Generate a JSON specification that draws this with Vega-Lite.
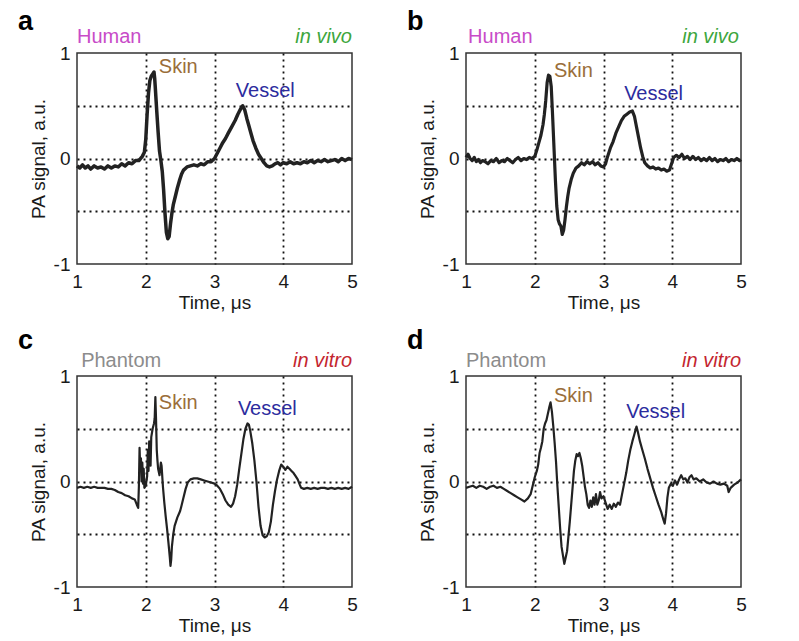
{
  "$schema": "https://vega.github.io/schema/vega-lite/v6.json",
  "padding": {"left": 17, "top": 7, "right": 5, "bottom": 5},
  "background": "white",
  "config": {
    "font": "Liberation Sans",
    "view": {"stroke": "#333333", "strokeWidth": 1.5},
    "axis": {
      "labelFont": "Liberation Sans", "labelFontSize": 19, "labelColor": "#1a1a1a",
      "titleFont": "Liberation Sans", "titleFontSize": 19, "titleFontWeight": "normal", "titleColor": "#1a1a1a",
      "ticks": false, "domain": false,
      "gridColor": "#111111", "gridDash": [2, 4], "gridWidth": 1.8
    },
    "axisX": {"labelFlush": false, "labelPadding": 8, "titlePadding": 2, "labelOverlap": false, "format": "d"},
    "axisY": {"labelPadding": 7, "titlePadding": 5, "labelOverlap": false}
  },
  "datasets": {
    "a": [
      {"t":1.00,"s":-0.07},{"t":1.04,"s":-0.09},{"t":1.08,"s":-0.06},{"t":1.12,"s":-0.09},{"t":1.16,"s":-0.07},{"t":1.20,"s":-0.10},{"t":1.25,"s":-0.07},{"t":1.30,"s":-0.09},{"t":1.35,"s":-0.08},{"t":1.40,"s":-0.10},{"t":1.45,"s":-0.07},{"t":1.50,"s":-0.09},{"t":1.55,"s":-0.07},{"t":1.60,"s":-0.08},{"t":1.65,"s":-0.05},{"t":1.70,"s":-0.07},{"t":1.75,"s":-0.04},{"t":1.80,"s":-0.05},{"t":1.85,"s":-0.02},{"t":1.90,"s":-0.02},{"t":1.95,"s":0.02},{"t":1.98,"s":0.06},{"t":2.00,"s":0.18},{"t":2.02,"s":0.42},{"t":2.04,"s":0.62},{"t":2.06,"s":0.74},{"t":2.08,"s":0.78},{"t":2.10,"s":0.80},{"t":2.12,"s":0.82},{"t":2.13,"s":0.76},{"t":2.14,"s":0.66},{"t":2.16,"s":0.45},{"t":2.18,"s":0.25},{"t":2.20,"s":0.07},{"t":2.22,"s":-0.02},{"t":2.24,"s":-0.12},{"t":2.26,"s":-0.30},{"t":2.28,"s":-0.52},{"t":2.30,"s":-0.70},{"t":2.32,"s":-0.76},{"t":2.34,"s":-0.74},{"t":2.36,"s":-0.62},{"t":2.38,"s":-0.52},{"t":2.40,"s":-0.44},{"t":2.43,"s":-0.36},{"t":2.46,"s":-0.28},{"t":2.49,"s":-0.21},{"t":2.52,"s":-0.15},{"t":2.55,"s":-0.11},{"t":2.60,"s":-0.08},{"t":2.65,"s":-0.07},{"t":2.70,"s":-0.06},{"t":2.75,"s":-0.07},{"t":2.80,"s":-0.05},{"t":2.85,"s":-0.06},{"t":2.90,"s":-0.03},{"t":2.95,"s":-0.03},{"t":3.00,"s":0.00},{"t":3.04,"s":0.05},{"t":3.08,"s":0.10},{"t":3.12,"s":0.15},{"t":3.16,"s":0.19},{"t":3.20,"s":0.24},{"t":3.25,"s":0.30},{"t":3.30,"s":0.36},{"t":3.34,"s":0.42},{"t":3.38,"s":0.47},{"t":3.41,"s":0.50},{"t":3.44,"s":0.46},{"t":3.47,"s":0.38},{"t":3.50,"s":0.31},{"t":3.53,"s":0.24},{"t":3.56,"s":0.17},{"t":3.60,"s":0.10},{"t":3.64,"s":0.04},{"t":3.68,"s":0.00},{"t":3.72,"s":-0.04},{"t":3.76,"s":-0.07},{"t":3.80,"s":-0.08},{"t":3.84,"s":-0.07},{"t":3.88,"s":-0.05},{"t":3.92,"s":-0.04},{"t":3.96,"s":-0.06},{"t":4.00,"s":-0.04},{"t":4.05,"s":-0.05},{"t":4.10,"s":-0.03},{"t":4.15,"s":-0.05},{"t":4.20,"s":-0.04},{"t":4.25,"s":-0.05},{"t":4.30,"s":-0.03},{"t":4.35,"s":-0.04},{"t":4.40,"s":-0.02},{"t":4.45,"s":-0.04},{"t":4.50,"s":-0.02},{"t":4.55,"s":-0.03},{"t":4.60,"s":-0.01},{"t":4.65,"s":-0.03},{"t":4.70,"s":-0.02},{"t":4.75,"s":-0.01},{"t":4.80,"s":-0.03},{"t":4.85,"s":0.00},{"t":4.90,"s":-0.02},{"t":4.95,"s":0.00},{"t":5.00,"s":-0.01}
    ],
    "b": [
      {"t":1.00,"s":0.01},{"t":1.03,"s":0.04},{"t":1.06,"s":0.00},{"t":1.09,"s":-0.02},{"t":1.12,"s":0.01},{"t":1.15,"s":-0.03},{"t":1.18,"s":-0.01},{"t":1.21,"s":-0.04},{"t":1.24,"s":-0.02},{"t":1.28,"s":-0.03},{"t":1.32,"s":-0.05},{"t":1.36,"s":-0.02},{"t":1.40,"s":-0.03},{"t":1.44,"s":0.00},{"t":1.48,"s":-0.04},{"t":1.52,"s":-0.02},{"t":1.56,"s":-0.03},{"t":1.60,"s":0.00},{"t":1.64,"s":-0.02},{"t":1.68,"s":-0.04},{"t":1.72,"s":-0.01},{"t":1.76,"s":0.01},{"t":1.80,"s":-0.02},{"t":1.84,"s":0.00},{"t":1.88,"s":-0.01},{"t":1.92,"s":0.01},{"t":1.96,"s":0.00},{"t":2.00,"s":0.02},{"t":2.03,"s":0.08},{"t":2.06,"s":0.15},{"t":2.09,"s":0.22},{"t":2.12,"s":0.32},{"t":2.14,"s":0.42},{"t":2.16,"s":0.55},{"t":2.18,"s":0.72},{"t":2.20,"s":0.79},{"t":2.22,"s":0.78},{"t":2.24,"s":0.68},{"t":2.26,"s":0.40},{"t":2.28,"s":0.10},{"t":2.30,"s":-0.20},{"t":2.32,"s":-0.45},{"t":2.34,"s":-0.58},{"t":2.36,"s":-0.62},{"t":2.38,"s":-0.64},{"t":2.40,"s":-0.72},{"t":2.42,"s":-0.68},{"t":2.44,"s":-0.58},{"t":2.46,"s":-0.46},{"t":2.48,"s":-0.36},{"t":2.50,"s":-0.28},{"t":2.53,"s":-0.20},{"t":2.56,"s":-0.14},{"t":2.60,"s":-0.09},{"t":2.64,"s":-0.07},{"t":2.68,"s":-0.04},{"t":2.72,"s":-0.06},{"t":2.76,"s":-0.03},{"t":2.80,"s":-0.05},{"t":2.84,"s":-0.03},{"t":2.88,"s":-0.06},{"t":2.92,"s":-0.04},{"t":2.96,"s":-0.07},{"t":3.00,"s":-0.08},{"t":3.03,"s":-0.05},{"t":3.06,"s":0.02},{"t":3.10,"s":0.10},{"t":3.14,"s":0.16},{"t":3.18,"s":0.24},{"t":3.22,"s":0.30},{"t":3.26,"s":0.36},{"t":3.30,"s":0.40},{"t":3.34,"s":0.42},{"t":3.38,"s":0.44},{"t":3.42,"s":0.45},{"t":3.45,"s":0.40},{"t":3.48,"s":0.30},{"t":3.51,"s":0.20},{"t":3.54,"s":0.10},{"t":3.57,"s":0.02},{"t":3.60,"s":-0.04},{"t":3.64,"s":-0.07},{"t":3.68,"s":-0.09},{"t":3.72,"s":-0.08},{"t":3.76,"s":-0.10},{"t":3.80,"s":-0.09},{"t":3.84,"s":-0.11},{"t":3.88,"s":-0.10},{"t":3.92,"s":-0.12},{"t":3.96,"s":-0.11},{"t":3.99,"s":-0.05},{"t":4.02,"s":0.01},{"t":4.06,"s":0.03},{"t":4.10,"s":0.01},{"t":4.14,"s":0.04},{"t":4.18,"s":0.00},{"t":4.22,"s":0.02},{"t":4.26,"s":-0.01},{"t":4.30,"s":0.02},{"t":4.34,"s":-0.01},{"t":4.38,"s":0.01},{"t":4.42,"s":-0.02},{"t":4.46,"s":0.00},{"t":4.50,"s":-0.02},{"t":4.54,"s":0.01},{"t":4.58,"s":-0.02},{"t":4.62,"s":0.00},{"t":4.66,"s":-0.03},{"t":4.70,"s":-0.01},{"t":4.74,"s":-0.02},{"t":4.78,"s":0.00},{"t":4.82,"s":-0.03},{"t":4.86,"s":-0.01},{"t":4.90,"s":-0.02},{"t":4.94,"s":0.00},{"t":4.98,"s":-0.02},{"t":5.00,"s":-0.01}
    ],
    "c": [
      {"t":1.00,"s":-0.06},{"t":1.05,"s":-0.05},{"t":1.10,"s":-0.06},{"t":1.15,"s":-0.05},{"t":1.20,"s":-0.06},{"t":1.25,"s":-0.05},{"t":1.30,"s":-0.06},{"t":1.35,"s":-0.06},{"t":1.40,"s":-0.06},{"t":1.45,"s":-0.07},{"t":1.50,"s":-0.07},{"t":1.55,"s":-0.08},{"t":1.60,"s":-0.10},{"t":1.65,"s":-0.11},{"t":1.70,"s":-0.13},{"t":1.75,"s":-0.14},{"t":1.80,"s":-0.16},{"t":1.84,"s":-0.17},{"t":1.87,"s":-0.22},{"t":1.89,"s":-0.25},{"t":1.90,"s":-0.05},{"t":1.91,"s":0.32},{"t":1.92,"s":0.10},{"t":1.93,"s":0.22},{"t":1.94,"s":0.00},{"t":1.95,"s":0.18},{"t":1.96,"s":-0.02},{"t":1.97,"s":0.12},{"t":1.98,"s":-0.06},{"t":2.00,"s":-0.04},{"t":2.02,"s":0.05},{"t":2.03,"s":0.30},{"t":2.04,"s":0.10},{"t":2.05,"s":0.38},{"t":2.06,"s":0.22},{"t":2.07,"s":0.15},{"t":2.08,"s":0.42},{"t":2.10,"s":0.50},{"t":2.12,"s":0.55},{"t":2.13,"s":0.60},{"t":2.14,"s":0.80},{"t":2.15,"s":0.58},{"t":2.16,"s":0.30},{"t":2.17,"s":0.20},{"t":2.18,"s":0.12},{"t":2.20,"s":0.06},{"t":2.22,"s":0.18},{"t":2.23,"s":0.15},{"t":2.25,"s":-0.05},{"t":2.27,"s":-0.20},{"t":2.29,"s":-0.33},{"t":2.31,"s":-0.45},{"t":2.33,"s":-0.58},{"t":2.35,"s":-0.72},{"t":2.36,"s":-0.80},{"t":2.37,"s":-0.74},{"t":2.38,"s":-0.62},{"t":2.40,"s":-0.50},{"t":2.42,"s":-0.42},{"t":2.44,"s":-0.38},{"t":2.46,"s":-0.34},{"t":2.48,"s":-0.31},{"t":2.50,"s":-0.28},{"t":2.52,"s":-0.23},{"t":2.55,"s":-0.15},{"t":2.58,"s":-0.07},{"t":2.61,"s":-0.01},{"t":2.65,"s":0.02},{"t":2.70,"s":0.03},{"t":2.75,"s":0.03},{"t":2.80,"s":0.02},{"t":2.85,"s":0.01},{"t":2.90,"s":0.00},{"t":2.95,"s":-0.01},{"t":3.00,"s":-0.02},{"t":3.04,"s":-0.04},{"t":3.08,"s":-0.07},{"t":3.12,"s":-0.12},{"t":3.16,"s":-0.18},{"t":3.20,"s":-0.22},{"t":3.24,"s":-0.24},{"t":3.27,"s":-0.21},{"t":3.30,"s":-0.14},{"t":3.33,"s":-0.03},{"t":3.36,"s":0.12},{"t":3.39,"s":0.26},{"t":3.42,"s":0.40},{"t":3.45,"s":0.50},{"t":3.48,"s":0.55},{"t":3.50,"s":0.54},{"t":3.52,"s":0.48},{"t":3.55,"s":0.36},{"t":3.58,"s":0.20},{"t":3.61,"s":0.00},{"t":3.64,"s":-0.24},{"t":3.67,"s":-0.42},{"t":3.70,"s":-0.51},{"t":3.73,"s":-0.53},{"t":3.76,"s":-0.52},{"t":3.79,"s":-0.48},{"t":3.82,"s":-0.38},{"t":3.85,"s":-0.22},{"t":3.88,"s":-0.09},{"t":3.91,"s":0.02},{"t":3.94,"s":0.10},{"t":3.97,"s":0.16},{"t":4.00,"s":0.14},{"t":4.03,"s":0.11},{"t":4.06,"s":0.14},{"t":4.09,"s":0.12},{"t":4.12,"s":0.10},{"t":4.15,"s":0.08},{"t":4.18,"s":0.05},{"t":4.21,"s":0.02},{"t":4.24,"s":-0.03},{"t":4.26,"s":-0.06},{"t":4.30,"s":-0.07},{"t":4.35,"s":-0.06},{"t":4.40,"s":-0.07},{"t":4.45,"s":-0.06},{"t":4.50,"s":-0.07},{"t":4.55,"s":-0.06},{"t":4.60,"s":-0.06},{"t":4.65,"s":-0.07},{"t":4.70,"s":-0.06},{"t":4.75,"s":-0.07},{"t":4.80,"s":-0.06},{"t":4.85,"s":-0.07},{"t":4.90,"s":-0.06},{"t":4.95,"s":-0.07},{"t":5.00,"s":-0.05}
    ],
    "d": [
      {"t":1.00,"s":-0.06},{"t":1.05,"s":-0.05},{"t":1.10,"s":-0.04},{"t":1.15,"s":-0.06},{"t":1.20,"s":-0.04},{"t":1.25,"s":-0.05},{"t":1.30,"s":-0.07},{"t":1.35,"s":-0.05},{"t":1.40,"s":-0.04},{"t":1.45,"s":-0.06},{"t":1.50,"s":-0.05},{"t":1.55,"s":-0.07},{"t":1.60,"s":-0.09},{"t":1.65,"s":-0.11},{"t":1.70,"s":-0.13},{"t":1.75,"s":-0.15},{"t":1.80,"s":-0.17},{"t":1.85,"s":-0.19},{"t":1.90,"s":-0.16},{"t":1.94,"s":-0.12},{"t":1.97,"s":-0.04},{"t":2.00,"s":0.04},{"t":2.03,"s":0.10},{"t":2.05,"s":0.16},{"t":2.07,"s":0.27},{"t":2.09,"s":0.32},{"t":2.11,"s":0.38},{"t":2.13,"s":0.50},{"t":2.15,"s":0.55},{"t":2.17,"s":0.58},{"t":2.19,"s":0.64},{"t":2.21,"s":0.70},{"t":2.23,"s":0.75},{"t":2.25,"s":0.66},{"t":2.27,"s":0.52},{"t":2.29,"s":0.36},{"t":2.31,"s":0.18},{"t":2.33,"s":-0.05},{"t":2.35,"s":-0.25},{"t":2.37,"s":-0.45},{"t":2.39,"s":-0.62},{"t":2.41,"s":-0.70},{"t":2.43,"s":-0.78},{"t":2.45,"s":-0.72},{"t":2.47,"s":-0.66},{"t":2.49,"s":-0.52},{"t":2.51,"s":-0.38},{"t":2.53,"s":-0.22},{"t":2.55,"s":-0.06},{"t":2.57,"s":0.10},{"t":2.59,"s":0.20},{"t":2.61,"s":0.26},{"t":2.63,"s":0.24},{"t":2.65,"s":0.27},{"t":2.67,"s":0.22},{"t":2.69,"s":0.15},{"t":2.71,"s":0.05},{"t":2.73,"s":-0.05},{"t":2.75,"s":-0.12},{"t":2.77,"s":-0.22},{"t":2.79,"s":-0.25},{"t":2.81,"s":-0.18},{"t":2.83,"s":-0.24},{"t":2.85,"s":-0.15},{"t":2.87,"s":-0.22},{"t":2.89,"s":-0.12},{"t":2.91,"s":-0.22},{"t":2.93,"s":-0.18},{"t":2.95,"s":-0.10},{"t":2.97,"s":-0.16},{"t":3.00,"s":-0.14},{"t":3.03,"s":-0.20},{"t":3.06,"s":-0.26},{"t":3.09,"s":-0.22},{"t":3.12,"s":-0.26},{"t":3.15,"s":-0.21},{"t":3.18,"s":-0.24},{"t":3.21,"s":-0.20},{"t":3.24,"s":-0.22},{"t":3.27,"s":-0.12},{"t":3.30,"s":-0.02},{"t":3.33,"s":0.08},{"t":3.36,"s":0.20},{"t":3.39,"s":0.30},{"t":3.42,"s":0.38},{"t":3.45,"s":0.45},{"t":3.48,"s":0.52},{"t":3.50,"s":0.47},{"t":3.53,"s":0.38},{"t":3.56,"s":0.31},{"t":3.60,"s":0.22},{"t":3.64,"s":0.12},{"t":3.68,"s":0.03},{"t":3.72,"s":-0.06},{"t":3.76,"s":-0.14},{"t":3.80,"s":-0.22},{"t":3.84,"s":-0.29},{"t":3.87,"s":-0.36},{"t":3.89,"s":-0.40},{"t":3.91,"s":-0.30},{"t":3.93,"s":-0.15},{"t":3.95,"s":-0.06},{"t":3.98,"s":-0.02},{"t":4.01,"s":-0.04},{"t":4.04,"s":0.01},{"t":4.07,"s":-0.03},{"t":4.10,"s":0.02},{"t":4.13,"s":0.06},{"t":4.16,"s":0.02},{"t":4.19,"s":0.03},{"t":4.22,"s":-0.01},{"t":4.25,"s":0.04},{"t":4.28,"s":0.06},{"t":4.31,"s":0.02},{"t":4.35,"s":0.03},{"t":4.40,"s":0.00},{"t":4.45,"s":0.02},{"t":4.50,"s":-0.01},{"t":4.55,"s":-0.02},{"t":4.60,"s":0.00},{"t":4.65,"s":-0.02},{"t":4.70,"s":-0.03},{"t":4.75,"s":-0.02},{"t":4.80,"s":-0.04},{"t":4.82,"s":-0.10},{"t":4.85,"s":-0.06},{"t":4.90,"s":-0.03},{"t":4.95,"s":-0.01},{"t":5.00,"s":0.02}
    ]
  },
  "columns": 2,
  "bounds": "flush",
  "spacing": {"row": 112, "column": 114},
  "concat": [
    {
      "width": 275, "height": 211,
      "layer": [
        {"data": {"name": "a"}, "mark": {"type": "line", "color": "#222222", "strokeWidth": 3.5, "strokeJoin": "round"},
         "encoding": {
           "x": {"field": "t", "type": "quantitative", "scale": {"domain": [1, 5], "nice": false}, "axis": {"title": "Time, μs", "values": [1, 2, 3, 4, 5], "grid": true, "gridOpacity": {"condition": {"test": "datum.value == 1 || datum.value == 5", "value": 0}, "value": 1}}},
           "y": {"field": "s", "type": "quantitative", "scale": {"domain": [-1, 1], "nice": false, "zero": false}, "axis": {"title": "PA signal, a.u.", "values": [-1, -0.5, 0, 0.5, 1], "labelExpr": "datum.value == 1 ? '1' : datum.value == 0 ? '0' : datum.value == -1 ? '-1' : ''", "grid": true, "gridOpacity": {"condition": {"test": "abs(datum.value) == 1", "value": 0}, "value": 1}}}
         }},
        {"data": {"values": [{}]}, "mark": {"type": "text", "text": "a", "fontSize": 27, "fontWeight": "bold", "color": "#000000", "align": "left", "baseline": "alphabetic"}, "encoding": {"x": {"datum": 0.14}, "y": {"datum": 1.218}}},
        {"data": {"values": [{}]}, "mark": {"type": "text", "text": "Human", "fontSize": 20, "color": "#C84BC8", "align": "left", "baseline": "alphabetic"}, "encoding": {"x": {"datum": 1}, "y": {"datum": 1.095}}},
        {"data": {"values": [{}]}, "mark": {"type": "text", "text": "in vivo", "fontSize": 20, "fontStyle": "italic", "color": "#3DA63D", "align": "right", "baseline": "alphabetic"}, "encoding": {"x": {"datum": 5}, "y": {"datum": 1.095}}},
        {"data": {"values": [{}]}, "mark": {"type": "text", "text": "Skin", "fontSize": 20, "color": "#9A6E3A", "align": "left", "baseline": "alphabetic"}, "encoding": {"x": {"datum": 2.19}, "y": {"datum": 0.81}}},
        {"data": {"values": [{}]}, "mark": {"type": "text", "text": "Vessel", "fontSize": 20, "color": "#2C2C9E", "align": "left", "baseline": "alphabetic"}, "encoding": {"x": {"datum": 3.31}, "y": {"datum": 0.58}}}
      ]
    },
    {
      "width": 275, "height": 211,
      "layer": [
        {"data": {"name": "b"}, "mark": {"type": "line", "color": "#222222", "strokeWidth": 3.2, "strokeJoin": "round"},
         "encoding": {
           "x": {"field": "t", "type": "quantitative", "scale": {"domain": [1, 5], "nice": false}, "axis": {"title": "Time, μs", "values": [1, 2, 3, 4, 5], "grid": true, "gridOpacity": {"condition": {"test": "datum.value == 1 || datum.value == 5", "value": 0}, "value": 1}}},
           "y": {"field": "s", "type": "quantitative", "scale": {"domain": [-1, 1], "nice": false, "zero": false}, "axis": {"title": "PA signal, a.u.", "values": [-1, -0.5, 0, 0.5, 1], "labelExpr": "datum.value == 1 ? '1' : datum.value == 0 ? '0' : datum.value == -1 ? '-1' : ''", "grid": true, "gridOpacity": {"condition": {"test": "abs(datum.value) == 1", "value": 0}, "value": 1}}}
         }},
        {"data": {"values": [{}]}, "mark": {"type": "text", "text": "b", "fontSize": 27, "fontWeight": "bold", "color": "#000000", "align": "left", "baseline": "alphabetic"}, "encoding": {"x": {"datum": 0.14}, "y": {"datum": 1.218}}},
        {"data": {"values": [{}]}, "mark": {"type": "text", "text": "Human", "fontSize": 20, "color": "#C84BC8", "align": "left", "baseline": "alphabetic"}, "encoding": {"x": {"datum": 1.03}, "y": {"datum": 1.095}}},
        {"data": {"values": [{}]}, "mark": {"type": "text", "text": "in vivo", "fontSize": 20, "fontStyle": "italic", "color": "#3DA63D", "align": "right", "baseline": "alphabetic"}, "encoding": {"x": {"datum": 4.97}, "y": {"datum": 1.095}}},
        {"data": {"values": [{}]}, "mark": {"type": "text", "text": "Skin", "fontSize": 20, "color": "#9A6E3A", "align": "left", "baseline": "alphabetic"}, "encoding": {"x": {"datum": 2.28}, "y": {"datum": 0.77}}},
        {"data": {"values": [{}]}, "mark": {"type": "text", "text": "Vessel", "fontSize": 20, "color": "#2C2C9E", "align": "left", "baseline": "alphabetic"}, "encoding": {"x": {"datum": 3.30}, "y": {"datum": 0.55}}}
      ]
    },
    {
      "width": 275, "height": 211,
      "layer": [
        {"data": {"name": "c"}, "mark": {"type": "line", "color": "#222222", "strokeWidth": 2.2, "strokeJoin": "round"},
         "encoding": {
           "x": {"field": "t", "type": "quantitative", "scale": {"domain": [1, 5], "nice": false}, "axis": {"title": "Time, μs", "values": [1, 2, 3, 4, 5], "grid": true, "gridOpacity": {"condition": {"test": "datum.value == 1 || datum.value == 5", "value": 0}, "value": 1}}},
           "y": {"field": "s", "type": "quantitative", "scale": {"domain": [-1, 1], "nice": false, "zero": false}, "axis": {"title": "PA signal, a.u.", "values": [-1, -0.5, 0, 0.5, 1], "labelExpr": "datum.value == 1 ? '1' : datum.value == 0 ? '0' : datum.value == -1 ? '-1' : ''", "grid": true, "gridOpacity": {"condition": {"test": "abs(datum.value) == 1", "value": 0}, "value": 1}}}
         }},
        {"data": {"values": [{}]}, "mark": {"type": "text", "text": "c", "fontSize": 27, "fontWeight": "bold", "color": "#000000", "align": "left", "baseline": "alphabetic"}, "encoding": {"x": {"datum": 0.14}, "y": {"datum": 1.256}}},
        {"data": {"values": [{}]}, "mark": {"type": "text", "text": "Phantom", "fontSize": 20, "color": "#8C8C8C", "align": "left", "baseline": "alphabetic"}, "encoding": {"x": {"datum": 1.06}, "y": {"datum": 1.085}}},
        {"data": {"values": [{}]}, "mark": {"type": "text", "text": "in vitro", "fontSize": 20, "fontStyle": "italic", "color": "#C4262F", "align": "right", "baseline": "alphabetic"}, "encoding": {"x": {"datum": 5}, "y": {"datum": 1.085}}},
        {"data": {"values": [{}]}, "mark": {"type": "text", "text": "Skin", "fontSize": 20, "color": "#9A6E3A", "align": "left", "baseline": "alphabetic"}, "encoding": {"x": {"datum": 2.19}, "y": {"datum": 0.69}}},
        {"data": {"values": [{}]}, "mark": {"type": "text", "text": "Vessel", "fontSize": 20, "color": "#2C2C9E", "align": "left", "baseline": "alphabetic"}, "encoding": {"x": {"datum": 3.34}, "y": {"datum": 0.63}}}
      ]
    },
    {
      "width": 275, "height": 211,
      "layer": [
        {"data": {"name": "d"}, "mark": {"type": "line", "color": "#222222", "strokeWidth": 2.2, "strokeJoin": "round"},
         "encoding": {
           "x": {"field": "t", "type": "quantitative", "scale": {"domain": [1, 5], "nice": false}, "axis": {"title": "Time, μs", "values": [1, 2, 3, 4, 5], "grid": true, "gridOpacity": {"condition": {"test": "datum.value == 1 || datum.value == 5", "value": 0}, "value": 1}}},
           "y": {"field": "s", "type": "quantitative", "scale": {"domain": [-1, 1], "nice": false, "zero": false}, "axis": {"title": "PA signal, a.u.", "values": [-1, -0.5, 0, 0.5, 1], "labelExpr": "datum.value == 1 ? '1' : datum.value == 0 ? '0' : datum.value == -1 ? '-1' : ''", "grid": true, "gridOpacity": {"condition": {"test": "abs(datum.value) == 1", "value": 0}, "value": 1}}}
         }},
        {"data": {"values": [{}]}, "mark": {"type": "text", "text": "d", "fontSize": 27, "fontWeight": "bold", "color": "#000000", "align": "left", "baseline": "alphabetic"}, "encoding": {"x": {"datum": 0.14}, "y": {"datum": 1.256}}},
        {"data": {"values": [{}]}, "mark": {"type": "text", "text": "Phantom", "fontSize": 20, "color": "#8C8C8C", "align": "left", "baseline": "alphabetic"}, "encoding": {"x": {"datum": 1.0}, "y": {"datum": 1.085}}},
        {"data": {"values": [{}]}, "mark": {"type": "text", "text": "in vitro", "fontSize": 20, "fontStyle": "italic", "color": "#C4262F", "align": "right", "baseline": "alphabetic"}, "encoding": {"x": {"datum": 5}, "y": {"datum": 1.085}}},
        {"data": {"values": [{}]}, "mark": {"type": "text", "text": "Skin", "fontSize": 20, "color": "#9A6E3A", "align": "left", "baseline": "alphabetic"}, "encoding": {"x": {"datum": 2.28}, "y": {"datum": 0.75}}},
        {"data": {"values": [{}]}, "mark": {"type": "text", "text": "Vessel", "fontSize": 20, "color": "#2C2C9E", "align": "left", "baseline": "alphabetic"}, "encoding": {"x": {"datum": 3.33}, "y": {"datum": 0.60}}}
      ]
    }
  ]
}
